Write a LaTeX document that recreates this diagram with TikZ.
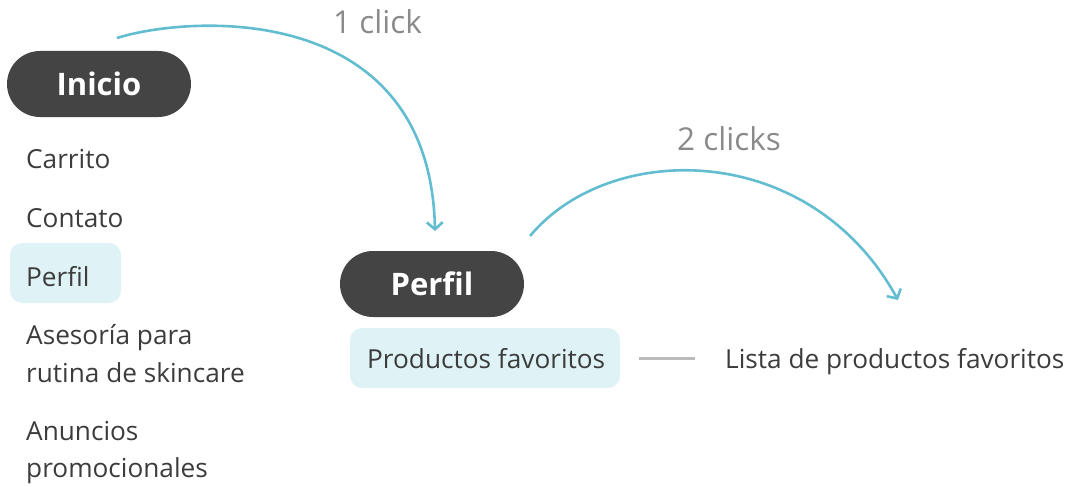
\documentclass[tikz,border=0pt]{standalone}
\usepackage{fontspec}
\setmainfont{Open Sans}
\usetikzlibrary{arrows.meta}
\definecolor{pilldark}{HTML}{444444}
\definecolor{hilite}{HTML}{DFF2F6}
\definecolor{txtdark}{HTML}{3C3C3C}
\definecolor{lblgray}{HTML}{8A8A8A}
\definecolor{flowcyan}{HTML}{62BDD0}
\definecolor{lnkgray}{HTML}{BBBBBB}
\tikzset{
  pill/.style={fill=pilldark, text=white, rounded corners=33pt, minimum width=184pt, minimum height=66pt, inner sep=0pt, font=\bfseries\fontsize{31}{36}\selectfont},
  item/.style={anchor=base west, inner sep=0pt, text=txtdark, font=\fontsize{26.2}{38}\selectfont, align=left},
  hibox/.style={fill=hilite, rounded corners=12pt, inner sep=0pt},
  clicklbl/.style={anchor=base west, inner sep=0pt, text=lblgray, font=\fontsize{31.5}{34}\selectfont},
  flow/.style={draw=flowcyan, line width=2.6pt, -{Straight Barb[length=7pt,width=16pt,line width=2.6pt]}},
  link/.style={draw=lnkgray, line width=3pt}
}
\begin{document}
\begin{tikzpicture}[x=1pt,y=-1pt]
\useasboundingbox (0,0) rectangle (1069,487);
% highlight boxes
\node[hibox, minimum width=111pt, minimum height=60pt] (hperfil) at (65.5,273) {};
\node[hibox, minimum width=270pt, minimum height=60pt] (hprod) at (485,358) {};
% pills
\node[pill] (inicio) at (99,84) {Inicio};
\node[pill] (perfil) at (432,284) {Perfil};
% list items
\node[item] (carrito) at (26,168) {Carrito};
\node[item] (contato) at (26,227) {Contato};
\node[item] (perfilitem) at (26,286) {Perfil};
\node[item] (asesoria) at (26,344) {Asesoría para};
\node[item] (rutina) at (26,382) {rutina de skincare};
\node[item] (anuncios) at (26,440) {Anuncios};
\node[item] (promo) at (26,477) {promocionales};
\node[item] (prod) at (367,368) {Productos favoritos};
\node[item] (lista) at (725,368) {Lista de productos favoritos};
% click labels
\node[clicklbl] (c1) at (333,34) {1 click};
\node[clicklbl] (c2) at (677,150) {2 clicks};
% connectors
\coordinate (a1s) at (117,38);
\coordinate (a1e) at (435,231);
\coordinate (a2s) at (530,236);
\coordinate (a2e) at (898,300);
\draw[flow] (a1s) .. controls (190,15) and (430,0) .. (a1e);
\draw[flow] (a2s) .. controls (610,140) and (810,140) .. (a2e);
\draw[link, shorten <=19pt] (hprod.east) -- (hprod.east -| lista.west) [shorten >=30pt];
\end{tikzpicture}
\end{document}
